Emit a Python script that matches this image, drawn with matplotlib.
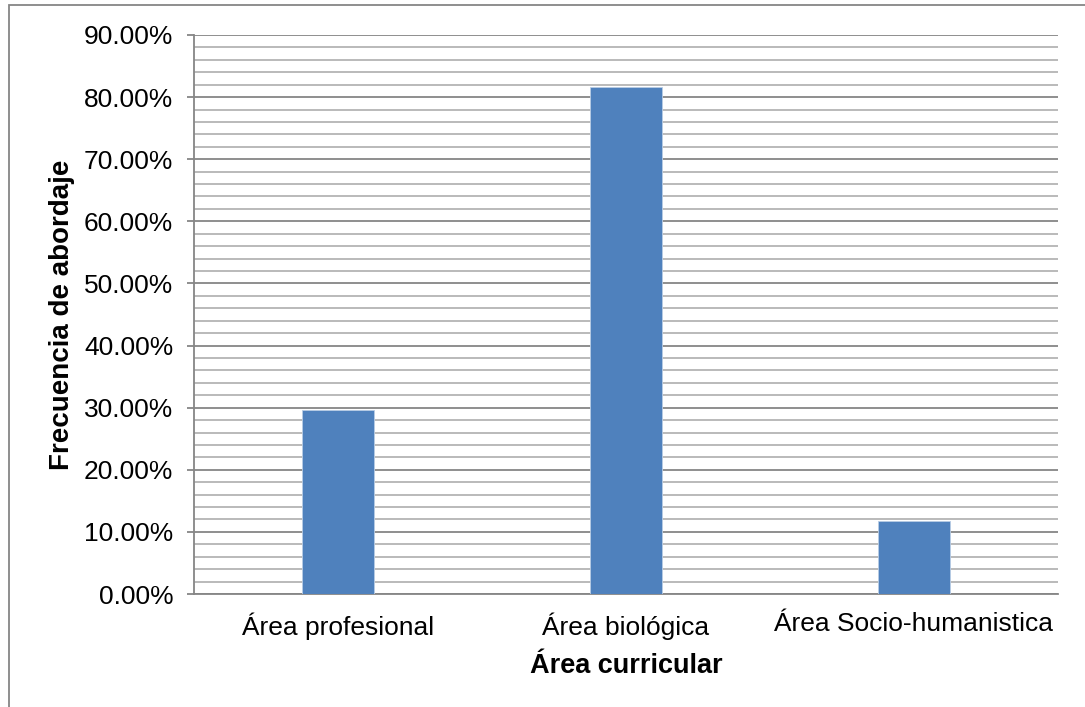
import matplotlib
matplotlib.use('Agg')
import matplotlib.pyplot as plt
from matplotlib.ticker import MultipleLocator, FuncFormatter
from matplotlib.patches import Rectangle

categories = ['Área profesional', 'Área biológica', 'Área Socio-humanistica']
values = [29.6, 81.6, 11.7]

plt.rcParams['font.family'] = ['Liberation Sans', 'DejaVu Sans']

fig = plt.figure(figsize=(10.85, 7.07), dpi=100)
ax = fig.add_axes([0.1788, 0.1598, 0.7963, 0.7907])

x = range(len(categories))
ax.bar(x, values, width=0.25, color='#4F81BD', edgecolor='#B9CDE5', linewidth=0.6, zorder=3)

ax.set_xlim(-0.5, 2.5)
ax.set_ylim(0, 90)
ax.yaxis.set_major_locator(MultipleLocator(10))
ax.yaxis.set_minor_locator(MultipleLocator(2))
ax.yaxis.set_major_formatter(FuncFormatter(lambda v, p: '%.2f%%' % v))
ax.grid(True, which='major', axis='y', color='#868686', linewidth=1.3, zorder=0)
ax.grid(True, which='minor', axis='y', color='#B4B4B4', linewidth=1.3, zorder=0)

ax.set_xticks(list(x))
ax.set_xticklabels(categories)
ax.tick_params(axis='x', length=0, labelsize=19, pad=13)
ax.tick_params(axis='y', which='major', length=5, width=1.3, color='#868686', labelsize=19, pad=10)
ax.tick_params(axis='y', which='minor', length=0)

for s in ['top', 'right']:
    ax.spines[s].set_visible(False)
ax.spines['left'].set_color('#868686')
ax.spines['left'].set_linewidth(1.3)
ax.spines['bottom'].set_color('#868686')
ax.spines['bottom'].set_linewidth(1.3)

ax.set_xlabel('Área curricular', fontsize=19.5, fontweight='bold', labelpad=10)
ax.set_ylabel('Frecuencia de abordaje', fontsize=20, fontweight='bold', labelpad=6)

# outer chart border
fig.patches.append(Rectangle((9 / 1085, -0.1), 1.2, (707 - 5) / 707 + 0.1,
                             transform=fig.transFigure, fill=False,
                             edgecolor='#868686', linewidth=1.3))

fig.savefig('out.png', dpi=100)
